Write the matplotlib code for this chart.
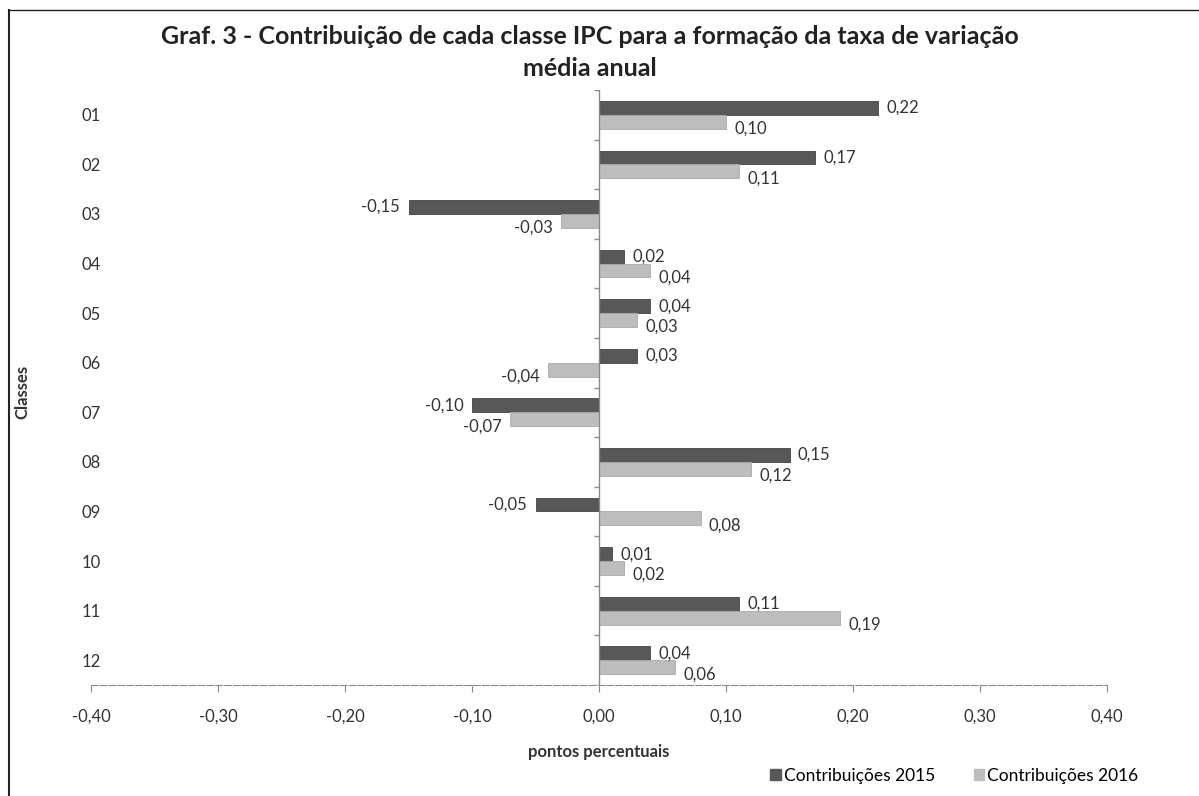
import numpy as np
import matplotlib
matplotlib.use("Agg")
import matplotlib.pyplot as plt
from matplotlib.lines import Line2D
from matplotlib.patches import Patch

plt.rcParams["font.family"] = ["Lato", "DejaVu Sans"]

# ── données ───────────────────────────────────────────────────────────────────
classes = ["01", "02", "03", "04", "05", "06", "07", "08", "09", "10", "11", "12"]
contrib_2015 = [0.22, 0.17, -0.15, 0.02, 0.04, 0.03, -0.10, 0.15, -0.05, 0.01, 0.11, 0.04]
contrib_2016 = [0.10, 0.11, -0.03, 0.04, 0.03, -0.04, -0.07, 0.12, 0.08, 0.02, 0.19, 0.06]
x_ticks = [-0.40, -0.30, -0.20, -0.10, 0.00, 0.10, 0.20, 0.30, 0.40]

title = "Graf. 3 - Contribuição de cada classe IPC para a formação da taxa de variação\nmédia anual"
series_names = ["Contribuições 2015", "Contribuições 2016"]

dark = "#585858"
light = "#bdbdbd"
axis_col = "#8a8a8a"
txt_col = "#333333"

def fmt(v):
    return f"{v:.2f}".replace(".", ",")

# ── figure ────────────────────────────────────────────────────────────────────
fig = plt.figure(figsize=(11.99, 7.96), dpi=100)
ax = fig.add_axes([0.0759, 0.1394, 0.8474, 0.7475])

y = np.arange(len(classes))
h = 0.28
ax.barh(y - h / 2, contrib_2015, height=h, color=dark, edgecolor="#444444", linewidth=0.6)
ax.barh(y + h / 2, contrib_2016, height=h, color=light, edgecolor="#aaaaaa", linewidth=0.6)

ax.set_xlim(-0.40, 0.40)
ax.set_ylim(len(classes) - 0.5, -0.5)

# étiquettes de données
for i, (a, b) in enumerate(zip(contrib_2015, contrib_2016)):
    for v, yy, dy in [(a, i - h / 2, 0), (b, i + h / 2, 5)]:
        pad = 6 if v >= 0 else -6
        ax.annotate(fmt(v), (v, yy), xytext=(pad, -dy), textcoords="offset points",
                    ha="left" if v >= 0 else "right", va="center",
                    fontsize=12, color=txt_col)

# axes
for s in ["top", "right", "left"]:
    ax.spines[s].set_visible(False)
ax.spines["bottom"].set_color(axis_col)
ax.spines["bottom"].set_linestyle((0, (6, 2)))
ax.set_xticks(x_ticks)
ax.set_xticklabels([fmt(t) for t in x_ticks], fontsize=12, color=txt_col)
ax.tick_params(axis="x", direction="out", length=5, color=axis_col, pad=12)
ax.set_yticks(y)
ax.set_yticklabels(classes, fontsize=12, color=txt_col)
ax.tick_params(axis="y", length=0, pad=-7)

# axe vertical au zéro avec graduations entre les classes
ax.axvline(0, color=axis_col, linewidth=1)
ax.hlines(np.arange(len(classes) + 1) - 0.5, -0.004, 0, color=axis_col, linewidth=1)

ax.set_xlabel("pontos percentuais", fontsize=12, fontweight="bold", color=txt_col, labelpad=14)
fig.text(0.019, 0.508, "Classes", rotation=90, ha="center", va="center",
         fontsize=12, fontweight="bold", color=txt_col)

fig.text(0.492, 0.934, title, ha="center", va="center", fontsize=18,
         fontweight="bold", color="#222222", linespacing=1.5)

handles = [Patch(facecolor=dark, edgecolor=dark), Patch(facecolor=light, edgecolor=light)]
fig.legend(handles, series_names, loc="center", bbox_to_anchor=(0.796, 0.025), ncol=2,
           frameon=False, fontsize=12.5, handlelength=0.6, handleheight=0.6,
           handletextpad=0.2, columnspacing=2.2)

# cadre scanné (gauche et haut)
fig.add_artist(Line2D([0.0075, 0.0075], [0.0, 0.988], color="#222222", linewidth=1.5))
fig.add_artist(Line2D([0.0075, 1.0], [0.988, 0.988], color="#222222", linewidth=1.0))

fig.savefig("out.png", dpi=100)
